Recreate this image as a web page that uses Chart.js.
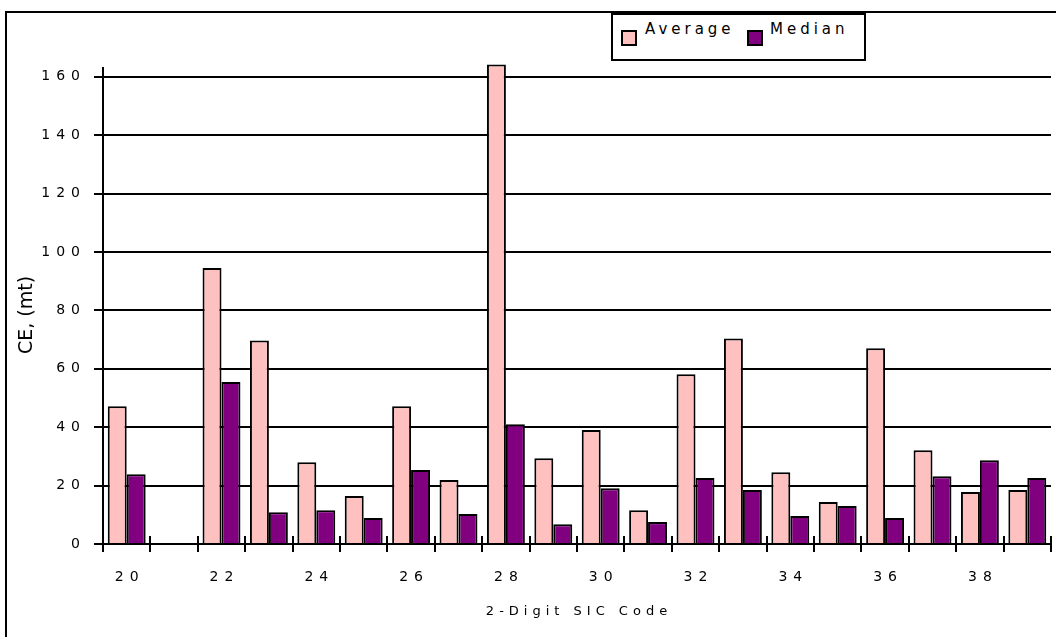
<!DOCTYPE html>
<html>
<head>
<meta charset="utf-8">
<script src="https://cdn.jsdelivr.net/npm/chart.js@4/dist/chart.umd.min.js"></script>
<style>
  html, body { margin:0; padding:0; background:#fff; overflow:hidden; }
  #wrap { position:relative; width:1056px; height:637px; }
  #frame { position:absolute; left:5px; top:11px; width:2000px; height:2000px;
           border-left:2px solid #000; border-top:2px solid #000; }
  #chart { position:absolute; left:0; top:0; }
  #legend { position:absolute; left:611px; top:13px; width:251px; height:44px;
            border:2px solid #000; background:#fff;
            font-family:"DejaVu Sans"; font-size:15px; letter-spacing:4px; color:#000; }
  #legend .sw { position:absolute; top:15px; width:12px; height:12px; border:2px solid #000; }
  #legend .tx { position:absolute; top:6px; line-height:17px; }
</style>
</head>
<body>
<div id="wrap">
  <div id="frame"></div>
  <canvas id="chart" width="1056" height="637"></canvas>
  <div id="legend">
    <div class="sw" style="left:8px;background:#FFC0C0"></div><span class="tx" style="left:32px">Average</span>
    <div class="sw" style="left:134px;background:#800080"></div><span class="tx" style="left:157px">Median</span>
  </div>
</div>
<script>
// SIC codes 20..39, CE in mt
const codes   = ['20','21','22','23','24','25','26','27','28','29','30','31','32','33','34','35','36','37','38','39'];
const average = [47.2, null, 94.5, 69.7, 28.0, 16.4, 47.2, 21.9, 164.2, 29.4, 39.0, 11.6, 58.1, 70.4, 24.6, 14.4, 67.0, 32.1, 17.8, 18.5];
const median  = [23.9, null, 55.5, 10.9, 11.6,  8.9, 25.3, 10.3,  41.0,  6.8, 19.1,  7.5, 22.6, 18.5,  9.6, 13.0,  8.9, 23.2, 28.7, 22.6];
const yTicks  = [0, 20, 40, 60, 80, 100, 120, 140, 160];

Chart.defaults.color = '#000';
Chart.defaults.font.family = '"DejaVu Sans"';

// wrap a scale draw step so it uses its own letter spacing (and optional shift)
function spaced(chart, scale, name, ls, dx, dy){
  const key = '_sp_' + name;
  if(scale[key]) return;
  const orig = scale[name].bind(scale);
  scale[name] = function(){
    const ctx = chart.ctx;
    ctx.save();
    ctx.letterSpacing = ls;
    ctx.translate(dx || 0, dy || 0);
    orig.apply(null, arguments);
    ctx.restore();
  };
  scale[key] = true;
}

const spacing = {
  id: 'spacing',
  beforeDraw(chart){
    spaced(chart, chart.scales.x, 'drawLabels', '6px', 3, 0);
    spaced(chart, chart.scales.y, 'drawLabels', '6px');
    spaced(chart, chart.scales.x, 'drawTitle', '5px', 2, 0);
    spaced(chart, chart.scales.y, 'drawTitle', '0px', 0, 9);
  },
  afterDraw(chart){
    // x tick marks also poke up above the axis
    const x = chart.scales.x, ctx = chart.ctx;
    const n = codes.length, w = x.width / n;
    ctx.save();
    ctx.strokeStyle = '#000'; ctx.lineWidth = 2;
    for(let i=1;i<=n;i++){
      const px = Math.round(x.left + i*w);
      ctx.beginPath(); ctx.moveTo(px, x.top - 8); ctx.lineTo(px, x.top); ctx.stroke();
    }
    ctx.restore();
  }
};

new Chart(document.getElementById('chart'), {
  type: 'bar',
  data: {
    labels: codes,
    datasets: [
      {label:'Average', data: average, backgroundColor:'#FFC0C0', borderColor:'#000', borderWidth:2, clip:false},
      {label:'Median',  data: median,  backgroundColor:'#800080', borderColor:'#000', borderWidth:2, clip:false}
    ]
  },
  options: {
    responsive:false, animation:false,
    layout:{ padding:{ top:68, right:5, left:0, bottom:0 } },
    plugins:{ legend:{display:false}, tooltip:{enabled:false} },
    datasets:{ bar:{ categoryPercentage:0.8, barPercentage:1.0 } },
    scales:{
      x:{
        afterFit(s){ s.height = 93; },
        grid:{ offset:true, drawOnChartArea:false, tickLength:8, color:'#000', lineWidth:2 },
        border:{ display:true, color:'#000', width:2 },
        ticks:{ autoSkip:false, maxRotation:0, padding:17, font:{size:14},
                callback:(v,i)=> (+codes[i]) % 2 === 0 ? codes[i] : '' },
        title:{ display:true, text:'2-Digit SIC Code', font:{size:13}, padding:{top:0, bottom:18} }
      },
      y:{
        min:0, max:163,
        afterFit(s){ s.width = 103; },
        afterBuildTicks(s){ s.ticks = yTicks.map(v=>({value:v})); },
        grid:{ color:'#000', lineWidth:2, tickLength:9 },
        border:{ display:true, color:'#000', width:2 },
        ticks:{ padding:8, font:{size:14} },
        title:{ display:true, text:'CE, (mt)', font:{size:19}, padding:{top:16, bottom:0} }
      }
    }
  },
  plugins:[spacing]
});
</script>
</body>
</html>
